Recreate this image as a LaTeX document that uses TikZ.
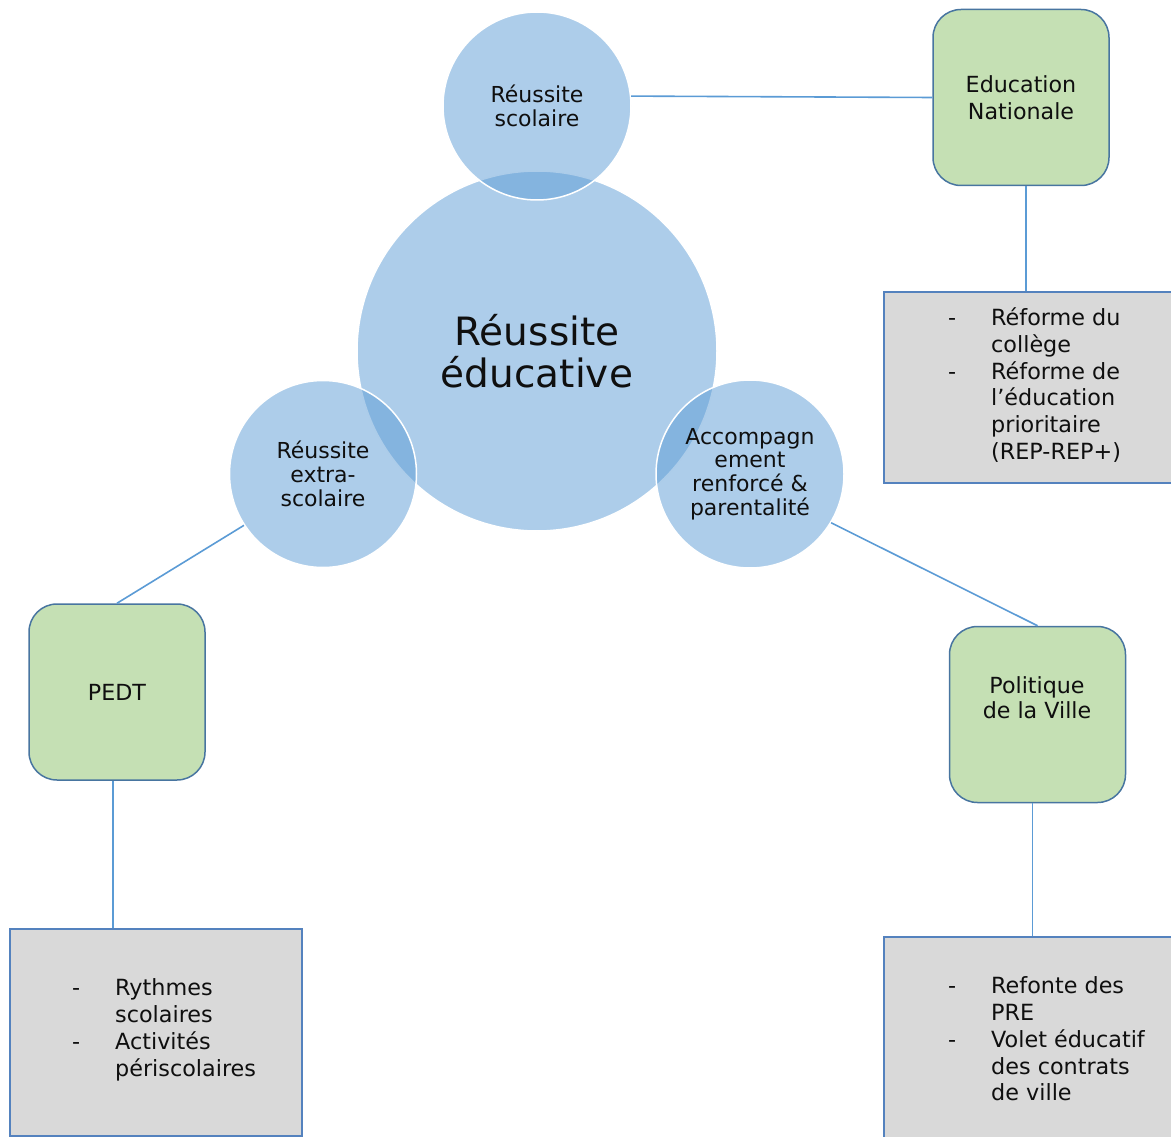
\documentclass[tikz,border=0pt]{standalone}
\usepackage{fontspec}
\setmainfont{DejaVu Sans}
\definecolor{circblue}{RGB}{91,155,213}
\definecolor{linkblue}{RGB}{91,155,213}
\definecolor{greenfill}{RGB}{197,224,180}
\definecolor{greenedge}{RGB}{72,117,160}
\definecolor{greyfill}{RGB}{217,217,217}
\definecolor{greyedge}{RGB}{84,130,190}
\definecolor{txt}{RGB}{15,15,15}
\newcommand{\itm}[1]{\makebox[43pt][l]{-}#1}
\newcommand{\cnt}[1]{\hspace*{43pt}#1}
\begin{document}
\begin{tikzpicture}[x=1pt,y=-1pt,
  circ/.style={circle,inner sep=0pt,fill=circblue,fill opacity=0.5,text opacity=1,
    draw=white,draw opacity=1,line width=1.5pt,text=txt,align=center},
  small/.style={font=\fontsize{22}{23.8}\selectfont},
  conn/.style={draw=linkblue,line width=1.6pt},
  gbox/.style={rectangle,rounded corners=28pt,fill=greenfill,draw=greenedge,line width=1.5pt,
    minimum width=176pt,minimum height=176pt,inner sep=0pt,text=txt,align=center,
    font=\fontsize{22.2}{27}\selectfont},
  greybox/.style={rectangle,fill=greyfill,draw=greyedge,line width=1.5pt,inner sep=0pt,anchor=north west},
  listtxt/.style={anchor=west,align=left,inner sep=0pt,text=txt,font=\fontsize{22.3}{26.8}\selectfont}
]
\useasboundingbox (0,0) rectangle (1171,1137);
\clip (0,0) rectangle (1171,1137);

% central circles
\node[circ,minimum size=360pt,font=\fontsize{39}{42}\selectfont] (main) at (537,351) {Réussite\\éducative};
\node[circ,small,minimum size=188pt] (topc) at (537,106) {Réussite\\scolaire};
\node[circ,small,minimum size=187pt] (extra) at (323,474) {Réussite\\extra-\\scolaire};
\node[circ,small,minimum size=188pt] (accomp) at (750,474) {Accompagn\\ement\\renforcé \&\\parentalité};

% green boxes
\node[gbox] (edu) at (1021,97.5) {Education\\Nationale};
\node[gbox] (pedt) at (117,692) {PEDT};
\node[gbox] (pol) at (1037.5,714.5) {};
\node[text=txt,align=center,inner sep=0pt,font=\fontsize{22.2}{25}\selectfont] (polt) at (1037,698) {Politique\\de la Ville};

% grey boxes
\node[greybox,minimum width=297pt,minimum height=191pt] (g1) at (883,291) {};
\node[greybox,minimum width=297pt,minimum height=210pt] (g2) at (883,936) {};
\node[greybox,minimum width=292pt,minimum height=207pt] (g3) at (9,928) {};

\node[listtxt] (l1) at (948,385) {\itm{Réforme du}\\\cnt{collège}\\\itm{Réforme de}\\\cnt{l’éducation}\\\cnt{prioritaire}\\\cnt{(REP-REP+)}};
\node[listtxt] (l2) at (948,1039) {\itm{Refonte des}\\\cnt{PRE}\\\itm{Volet éducatif}\\\cnt{des contrats}\\\cnt{de ville}};
\node[listtxt] (l3) at (72,1030) {\itm{Rythmes}\\\cnt{scolaires}\\\itm{Activités}\\\cnt{périscolaires}};

% connectors
\draw[conn] (topc.6) -- (edu.west);
\draw[conn] ([xshift=5pt]edu.south) -- ([xshift=5pt]edu.south |- g1.north);
\draw[conn] (accomp.-31) -- (pol.north);
\draw[conn] ([xshift=-5pt]pol.south) -- ([xshift=-5pt]pol.south |- g2.north);
\draw[conn] (extra.213) -- (pedt.north);
\draw[conn] ([xshift=-4pt]pedt.south) -- ([xshift=-4pt]pedt.south |- g3.north);
\end{tikzpicture}
\end{document}
